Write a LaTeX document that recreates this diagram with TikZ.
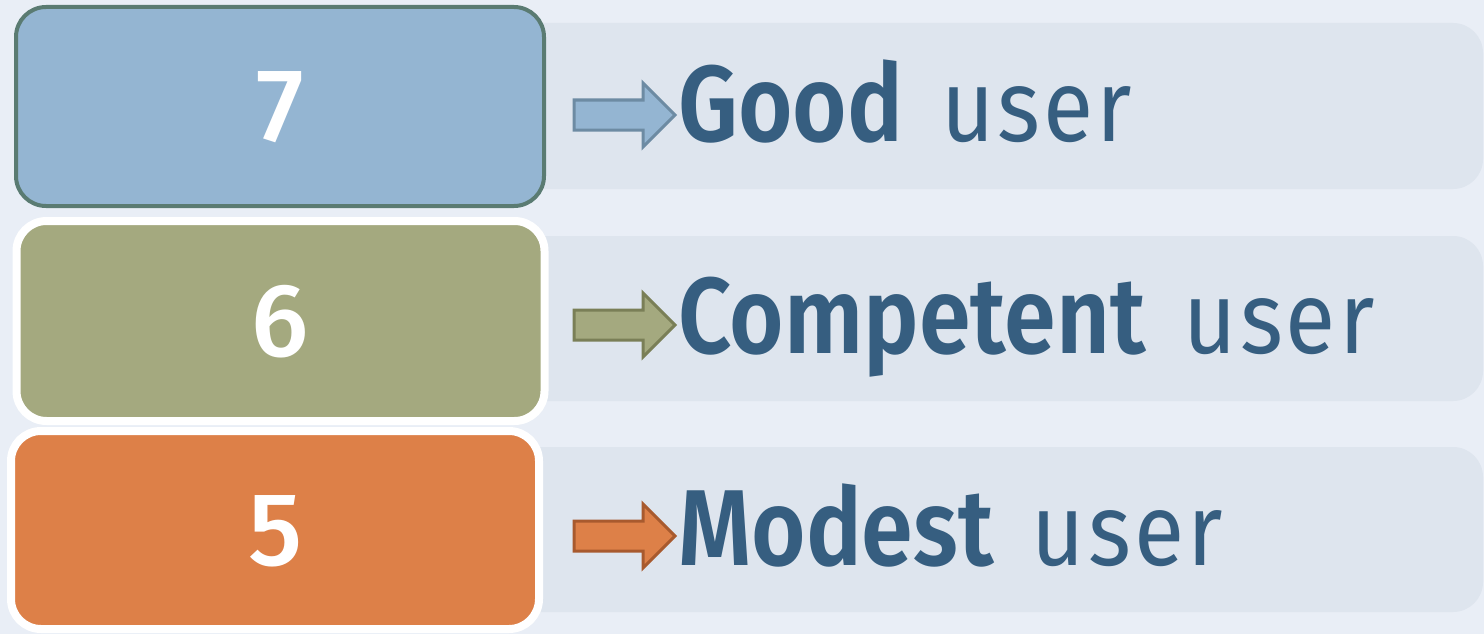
\documentclass[tikz,border=0pt]{standalone}
\usepackage{fontspec}
\setmainfont{Fira Sans}
\newfontfamily\lblbold[FakeStretch=0.865]{Fira Sans SemiBold}
\newfontfamily\lblreg[FakeStretch=0.9,LetterSpace=3]{Fira Sans}
\newfontfamily\numfnt{Fira Sans Medium}
\usetikzlibrary{shadows}
\definecolor{bgc}{HTML}{E9EEF6}
\definecolor{panelc}{HTML}{DEE5EE}
\definecolor{txtc}{HTML}{365E80}
\definecolor{bluef}{HTML}{94B5D2}
\definecolor{blued}{HTML}{5A7B72}
\definecolor{bluea}{HTML}{6D8BA3}
\definecolor{olivef}{HTML}{A4A97F}
\definecolor{olivea}{HTML}{7A7F57}
\definecolor{orangef}{HTML}{DD8048}
\definecolor{orangea}{HTML}{A85A2E}
\tikzset{
  panel/.style={fill=panelc, draw=none, rounded corners=30pt},
  numbox/.style={rounded corners=30pt, minimum width=528pt, inner sep=0pt, outer sep=0pt},
  whitebox/.style={numbox, draw=white, line width=8pt, drop shadow={opacity=0.25, shadow xshift=1pt, shadow yshift=-2pt}},
  numtext/.style={text=white, font=\numfnt\fontsize{104}{104}\selectfont, inner sep=0pt},
  lbl/.style={anchor=base west, text=txtc, inner sep=0pt},
  blockarrow/.style={line width=3pt, line join=miter},
}
\newcommand{\lbltext}[1]{{\lblbold\fontsize{108}{108}\selectfont #1}\hspace{38pt}{\lblreg\fontsize{102}{102}\selectfont user}}
\begin{document}
\begin{tikzpicture}[x=1pt,y=-1pt]
\path[fill=bgc, use as bounding box] (0,0) rectangle (1484,634);
% right panels
\path[panel] (500,23) rectangle (1483,189);
\path[panel] (500,236) rectangle (1483,401);
\path[panel] (500,447) rectangle (1483,612);
% number boxes
\node[numbox, fill=bluef, draw=blued, line width=4pt, minimum height=199pt] (b7) at (280,106.5) {};
\node[whitebox, fill=olivef, minimum height=200pt] (b6) at (280.5,321) {};
\node[whitebox, fill=orangef, minimum height=198pt] (b5) at (275,530) {};
\node[numtext] (n7) at (280,107) {7};
\node[numtext] (n6) at (280,322) {6};
\node[numtext] (n5) at (276,531) {5};
% arrows
\foreach \yc/\fc/\dc in {115/bluef/bluea, 325/olivef/olivea, 536/orangef/orangea}{
  \draw[blockarrow, fill=\fc, draw=\dc]
    (574,\yc-15) -- (643,\yc-15) -- (643,\yc-32) -- (675,\yc) -- (643,\yc+32) -- (643,\yc+15) -- (574,\yc+15) -- cycle;
}
% labels
\node[lbl] (l7) at (678,141) {\lbltext{Good}};
\node[lbl] (l6) at (678,353) {\lbltext{Competent}};
\node[lbl] (l5) at (678,565) {\lbltext{Modest}};
\end{tikzpicture}
\end{document}
